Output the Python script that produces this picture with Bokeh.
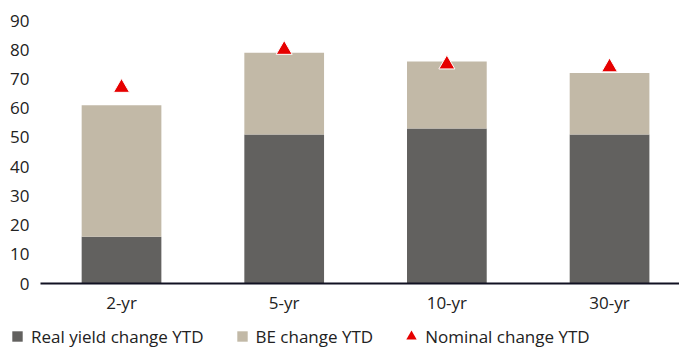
import numpy as np
from bokeh.plotting import figure
from bokeh.layouts import column
from bokeh.models import Range1d, FixedTicker, Legend, LegendItem, ColumnDataSource
from bokeh.embed import file_html
from bokeh.resources import INLINE

# Year-to-date yield changes by tenor (bp)
tenors = ["2-yr", "5-yr", "10-yr", "30-yr"]
real_yield_change = [16, 51, 53, 51]
be_change = [45, 28, 23, 21]
nominal_change = [67, 80, 75, 74]
y_ticks = [0, 10, 20, 30, 40, 50, 60, 70, 80, 90]
series_labels = ["Real yield change YTD", "BE change YTD", "Nominal change YTD"]

FONT = "Open Sans"
FS = "17px"
DARK = "#62615f"
SAND = "#c2b9a7"
RED = "#e60000"
TEXT = "#222222"

xs = list(range(len(tenors)))
src = ColumnDataSource(dict(x=xs, real=real_yield_change, be=be_change, nominal=nominal_change))

p = figure(width=679, height=318, output_backend="svg", toolbar_location=None,
           x_range=Range1d(-0.498, 3.43), y_range=Range1d(0, 90),
           min_border_left=40, min_border_right=0, min_border_top=20, min_border_bottom=35)
p.outline_line_color = None
p.background_fill_color = "white"
p.border_fill_color = "white"
p.xgrid.visible = False
p.ygrid.visible = False

p.vbar_stack(["real", "be"], x="x", width=0.49, source=src,
             color=[DARK, SAND], line_color=None)
p.scatter(x="x", y="nominal", source=src, marker="triangle", size=16,
          fill_color=RED, line_color="white", line_width=1)

# Axes
p.yaxis.ticker = FixedTicker(ticks=y_ticks)
p.yaxis.axis_line_color = None
p.yaxis.major_tick_line_color = None
p.yaxis.minor_tick_line_color = None
p.yaxis.major_tick_out = 0
p.yaxis.major_label_standoff = 11
p.yaxis.major_label_text_font = FONT
p.yaxis.major_label_text_font_size = FS
p.yaxis.major_label_text_color = TEXT

p.xaxis.ticker = FixedTicker(ticks=xs)
p.xaxis.major_label_overrides = {i: t for i, t in enumerate(tenors)}
p.xaxis.axis_line_color = "#111122"
p.xaxis.axis_line_width = 2
p.xaxis.major_tick_line_color = None
p.xaxis.minor_tick_line_color = None
p.xaxis.major_tick_out = 0
p.xaxis.major_label_standoff = 7
p.xaxis.major_label_text_font = FONT
p.xaxis.major_label_text_font_size = FS
p.xaxis.major_label_text_color = TEXT

# Legend strip underneath the chart; its key glyphs carry no visible data
lg = figure(width=679, height=29, output_backend="svg", toolbar_location=None,
            x_range=Range1d(0, 1), y_range=Range1d(0, 1),
            x_axis_type=None, y_axis_type=None,
            min_border_left=0, min_border_right=0, min_border_top=0, min_border_bottom=0)
lg.frame_align = False
lg.outline_line_color = None
lg.background_fill_color = "white"
lg.border_fill_color = "white"
lg.xgrid.visible = False
lg.ygrid.visible = False
empty = ColumnDataSource(dict(x=np.array([np.nan]), y=np.array([np.nan])))
key_real = lg.scatter(x="x", y="y", source=empty, marker="square", size=10,
                      fill_color=DARK, line_color=None)
key_be = lg.scatter(x="x", y="y", source=empty, marker="square", size=10,
                    fill_color=SAND, line_color=None)
key_nom = lg.scatter(x="x", y="y", source=empty, marker="triangle", size=12,
                     fill_color=RED, line_color=None)

legend = Legend(items=[
    LegendItem(label=series_labels[0], renderers=[key_real]),
    LegendItem(label=series_labels[1], renderers=[key_be]),
    LegendItem(label=series_labels[2], renderers=[key_nom]),
], orientation="horizontal", location=(4, -2))
legend.glyph_width = 26
legend.glyph_height = 26
legend.label_standoff = 1
legend.spacing = 25
legend.padding = 0
legend.margin = 0
legend.border_line_color = None
legend.background_fill_alpha = 0
legend.label_text_font = FONT
legend.label_text_font_size = FS
legend.label_text_color = TEXT
lg.add_layout(legend)

page = column(p, lg, spacing=0)
open("out.html", "w").write(file_html(page, INLINE))
